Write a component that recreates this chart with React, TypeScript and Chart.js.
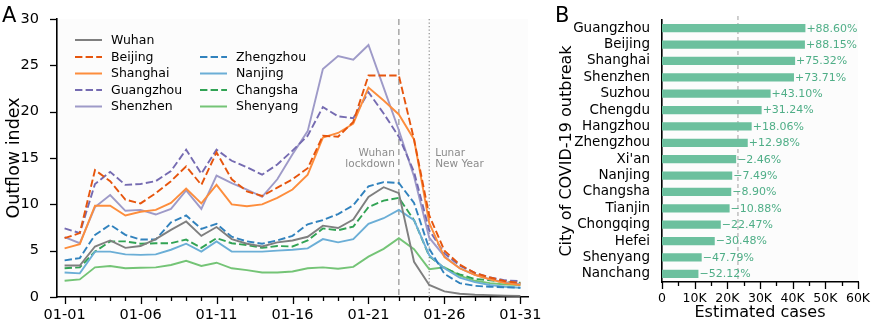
import React, { useEffect, useRef } from 'react';
import Chart from 'chart.js/auto';

const days = ['01-01','01-02','01-03','01-04','01-05','01-06','01-07','01-08','01-09','01-10','01-11','01-12','01-13','01-14','01-15','01-16','01-17','01-18','01-19','01-20','01-21','01-22','01-23','01-24','01-25','01-26','01-27','01-28','01-29','01-30','01-31'];

const wuhan = [3.4,3.4,5.45,6.1,5.3,5.5,6.25,7.25,8.15,6.6,7.55,6.25,5.75,5.45,5.9,6.1,6.5,7.7,7.45,8.35,10.8,11.85,11.2,3.8,1.3,0.6,0.35,0.25,0.2,0.15,0.12];
const beijing = [6.35,6.9,13.7,12.5,10.5,10.1,11.2,12.5,14.1,12.1,15.6,12.7,11.4,10.9,11.8,12.7,13.9,17.4,17.3,18.9,23.9,23.9,23.9,17.0,8.8,5.0,3.5,2.6,2.1,1.7,1.5];
const shanghai = [5.25,5.7,9.85,9.85,8.8,9.2,9.4,10.15,11.7,10.1,12.1,10.0,9.8,10.0,10.7,11.6,13.2,17.2,17.7,18.7,22.6,21.2,19.7,17.0,8.0,4.3,3.1,2.4,1.9,1.5,1.3];
const guangzhou = [7.4,6.9,12.2,13.5,12.1,12.2,12.5,13.6,15.9,13.3,15.9,14.7,14.0,13.2,14.3,15.8,17.4,20.5,19.5,19.3,22.1,19.8,17.3,13.5,7.2,4.7,3.4,2.6,2.1,1.8,1.7];
const shenzhen = [6.45,5.8,9.7,11.0,9.3,9.4,8.9,9.5,11.5,9.5,13.1,12.3,11.6,10.8,12.7,15.4,17.9,24.6,26.0,25.6,27.2,22.6,18.0,13.0,6.4,4.4,3.1,2.4,1.9,1.6,1.4];
const zhengzhou = [3.95,4.2,6.7,7.8,6.7,6.2,6.2,8.05,8.8,7.35,7.9,6.5,6.0,5.75,6.1,6.6,7.85,8.3,8.95,9.9,11.95,12.4,12.3,10.15,5.2,2.5,1.5,1.2,1.1,1.05,1.0];
const nanjing = [2.65,2.55,4.9,4.9,4.6,4.55,4.6,5.1,5.75,4.9,6.0,4.9,4.9,4.9,5.0,5.1,5.25,6.25,5.9,6.25,7.9,8.5,9.4,8.3,4.5,3.1,2.1,1.6,1.3,1.1,1.0];
const changsha = [3.1,3.2,4.9,6.0,6.0,5.75,5.8,5.8,6.2,5.3,6.35,5.8,5.6,5.3,5.5,5.45,6.1,7.4,7.2,7.6,9.7,10.4,10.7,8.3,4.4,3.1,2.45,1.95,1.8,1.6,1.55];
const shenyang = [1.75,1.9,3.2,3.35,3.1,3.15,3.2,3.45,3.9,3.35,3.7,3.1,2.9,2.65,2.65,2.75,3.1,3.2,3.05,3.25,4.35,5.2,6.35,5.15,3.0,3.2,2.3,1.75,1.5,1.35,1.3];

const lockdownDay = '01-23';
const lunarNewYearDay = '01-25';
const yTicksA = [0, 5, 10, 15, 20, 25, 30];

const cities = ['Guangzhou','Beijing','Shanghai','Shenzhen','Suzhou','Chengdu','Hangzhou','Zhengzhou',"Xi'an",'Nanjing','Changsha','Tianjin','Chongqing','Hefei','Shenyang','Nanchang'];
const estimatedCases = [43900,43750,40750,40400,33250,30500,27450,26250,22700,21500,21200,20700,18000,16150,12150,11150];
const changeLabels = ['+88.60%','+88.15%','+75.32%','+73.71%','+43.10%','+31.24%','+18.06%','+12.98%','\u22122.46%','\u22127.49%','\u22128.90%','\u221210.88%','\u221222.47%','\u221230.48%','\u221247.79%','\u221252.12%'];
const baselineCases = 23250;
const xTicksB = [0, 10000, 20000, 30000, 40000, 50000, 60000];

const FONT = '"DejaVu Sans", sans-serif';
const DASH = [7.4, 3.2];

const seriesA = [
  { label: 'Wuhan', data: wuhan, color: '#7f7f7f', dash: [] as number[] },
  { label: 'Beijing', data: beijing, color: '#e6550d', dash: DASH },
  { label: 'Shanghai', data: shanghai, color: '#fd8d3c', dash: [] as number[] },
  { label: 'Guangzhou', data: guangzhou, color: '#756bb1', dash: DASH },
  { label: 'Shenzhen', data: shenzhen, color: '#9e9ac8', dash: [] as number[] },
  { label: 'Zhengzhou', data: zhengzhou, color: '#3182bd', dash: DASH },
  { label: 'Nanjing', data: nanjing, color: '#6baed6', dash: [] as number[] },
  { label: 'Changsha', data: changsha, color: '#31a354', dash: DASH },
  { label: 'Shenyang', data: shenyang, color: '#74c476', dash: [] as number[] },
];

const bgPlugin = {
  id: 'bgArea',
  beforeDraw(chart: any) {
    const { ctx, chartArea } = chart;
    ctx.save();
    ctx.fillStyle = '#fcfcfc';
    ctx.fillRect(chartArea.left, chartArea.top, chartArea.right - chartArea.left, chartArea.bottom - chartArea.top);
    ctx.restore();
  },
};

const panelAPlugin = {
  id: 'panelA',
  beforeDatasetsDraw(chart: any) {
    const { ctx, chartArea, scales } = chart;
    const xs = scales.x;
    ctx.save();
    ctx.strokeStyle = '#999999';
    ctx.lineWidth = 1.3;
    const lx = xs.getPixelForValue(days.indexOf(lockdownDay));
    ctx.setLineDash([6, 4]);
    ctx.beginPath(); ctx.moveTo(lx, chartArea.top); ctx.lineTo(lx, chartArea.bottom); ctx.stroke();
    const nx = xs.getPixelForValue(days.indexOf(lunarNewYearDay));
    ctx.setLineDash([1.3, 2.2]);
    ctx.beginPath(); ctx.moveTo(nx, chartArea.top); ctx.lineTo(nx, chartArea.bottom); ctx.stroke();
    ctx.setLineDash([]);
    ctx.fillStyle = '#8c8c8c';
    ctx.font = '10.5px ' + FONT;
    ctx.textBaseline = 'middle';
    ctx.textAlign = 'right';
    ctx.fillText('Wuhan', lx - 4, 153);
    ctx.fillText('lockdown', lx - 4, 164);
    ctx.textAlign = 'left';
    ctx.fillText('Lunar', nx + 6, 153);
    ctx.fillText('New Year', nx + 6, 164);
    ctx.restore();
  },
  afterDraw(chart: any) {
    const { ctx, chartArea, scales } = chart;
    const xs = scales.x;
    const ys = scales.y;
    ctx.save();
    ctx.strokeStyle = '#000';
    ctx.lineWidth = 1.3;
    for (let i = 0; i < days.length; i++) {
      const px = Math.round(xs.getPixelForValue(i)) + 0.5;
      const len = i % 5 === 0 ? 7 : 4;
      ctx.beginPath(); ctx.moveTo(px, chartArea.bottom); ctx.lineTo(px, chartArea.bottom + len); ctx.stroke();
    }
    for (const v of yTicksA) {
      const py = Math.round(ys.getPixelForValue(v)) + 0.5;
      ctx.beginPath(); ctx.moveTo(chartArea.left - 7, py); ctx.lineTo(chartArea.left, py); ctx.stroke();
    }
    // legend
    const ds = chart.data.datasets;
    const rowY = [40, 57, 73.5, 90, 106.5];
    ctx.font = '12.5px ' + FONT;
    ctx.textBaseline = 'middle';
    ctx.textAlign = 'left';
    ds.forEach((d: any, i: number) => {
      const col = i < 5 ? 0 : 1;
      const row = i < 5 ? i : i - 4;
      const x0 = col === 0 ? 75 : 200;
      const y = rowY[row];
      ctx.strokeStyle = d.borderColor;
      ctx.lineWidth = 2;
      ctx.setLineDash(d.borderDash || []);
      ctx.beginPath(); ctx.moveTo(x0, y); ctx.lineTo(x0 + 27, y); ctx.stroke();
      ctx.setLineDash([]);
      ctx.fillStyle = '#000';
      ctx.fillText(d.label, x0 + 36, y + 0.5);
    });
    ctx.font = '21px ' + FONT;
    ctx.fillStyle = '#000';
    ctx.textBaseline = 'alphabetic';
    ctx.fillText('A', 2, 22);
    ctx.restore();
  },
};

const panelBPlugin = {
  id: 'panelB',
  beforeDatasetsDraw(chart: any) {
    const { ctx, chartArea, scales } = chart;
    const bx = scales.x.getPixelForValue(baselineCases);
    ctx.save();
    ctx.strokeStyle = '#b0b0b0';
    ctx.lineWidth = 1.2;
    ctx.setLineDash([4, 3]);
    ctx.beginPath(); ctx.moveTo(bx, chartArea.top - 4); ctx.lineTo(bx, chartArea.bottom); ctx.stroke();
    ctx.restore();
  },
  afterDraw(chart: any) {
    const { ctx, chartArea, scales } = chart;
    const xs = scales.x;
    const ys = scales.y;
    ctx.save();
    ctx.strokeStyle = '#000';
    ctx.lineWidth = 1.3;
    for (let v = 0; v <= 60000; v += 5000) {
      const px = Math.round(xs.getPixelForValue(v)) + 0.5;
      const len = v % 10000 === 0 ? 7 : 4;
      ctx.beginPath(); ctx.moveTo(px, chartArea.bottom); ctx.lineTo(px, chartArea.bottom + len); ctx.stroke();
    }
    ctx.font = '11px ' + FONT;
    ctx.fillStyle = '#4fae87';
    ctx.textBaseline = 'middle';
    ctx.textAlign = 'left';
    estimatedCases.forEach((v, i) => {
      const px = xs.getPixelForValue(v);
      const py = ys.getPixelForValue(i);
      ctx.fillText(changeLabels[i], px + 1, py + 0.5);
    });
    ctx.font = '21px ' + FONT;
    ctx.fillStyle = '#000';
    ctx.textBaseline = 'alphabetic';
    ctx.fillText('B', 10, 22);
    ctx.restore();
  },
};

function PanelA() {
  const ref = useRef<HTMLCanvasElement>(null);
  useEffect(() => {
    const chart = new Chart(ref.current as HTMLCanvasElement, {
      type: 'line',
      data: {
        labels: days,
        datasets: seriesA.map((s) => ({
          label: s.label,
          data: s.data,
          borderColor: s.color,
          backgroundColor: s.color,
          borderDash: s.dash,
          borderWidth: 1.9,
          pointRadius: 0,
          tension: 0,
          fill: false,
        })),
      },
      options: {
        responsive: false,
        animation: false,
        devicePixelRatio: 1,
        layout: { padding: { top: 19, right: 17, left: 0, bottom: 0 } },
        plugins: { legend: { display: false }, tooltip: { enabled: false } },
        scales: {
          x: {
            type: 'category',
            offset: true,
            grid: { display: false },
            border: { display: true, color: '#000', width: 1.6 },
            ticks: {
              autoSkip: false,
              maxRotation: 0,
              padding: 2,
              color: '#000',
              font: { family: FONT, size: 14.5 },
              callback: (_v: any, i: number) => (i % 5 === 0 ? days[i] : ''),
            },
            afterFit: (s: any) => { s.height = 28; },
          },
          y: {
            min: 0,
            max: 30,
            afterBuildTicks: (s: any) => { s.ticks = yTicksA.map((v) => ({ value: v })); },
            grid: { display: false },
            border: { display: true, color: '#000', width: 1.6 },
            ticks: { padding: 10, color: '#000', font: { family: FONT, size: 14.5 } },
            title: { display: true, text: 'Outflow index', color: '#000', font: { family: FONT, size: 17.5 }, padding: { top: 4, bottom: 0 } },
            afterFit: (s: any) => { s.width = 57; },
          },
        },
      } as any,
      plugins: [bgPlugin, panelAPlugin],
    });
    return () => chart.destroy();
  }, []);
  return <canvas ref={ref} width={545} height={325} style={{ position: 'absolute', left: 0, top: 0 }} />;
}

function PanelB() {
  const ref = useRef<HTMLCanvasElement>(null);
  useEffect(() => {
    const chart = new Chart(ref.current as HTMLCanvasElement, {
      type: 'bar',
      data: {
        labels: cities,
        datasets: [{
          label: 'Estimated cases',
          data: estimatedCases,
          backgroundColor: '#6cc09e',
          borderWidth: 0,
          barPercentage: 0.5,
          categoryPercentage: 1,
        }],
      },
      options: {
        indexAxis: 'y',
        responsive: false,
        animation: false,
        devicePixelRatio: 1,
        layout: { padding: { top: 20, right: 14, left: 0, bottom: 0 } },
        plugins: { legend: { display: false }, tooltip: { enabled: false } },
        scales: {
          x: {
            min: 0,
            max: 60000,
            afterBuildTicks: (s: any) => { s.ticks = xTicksB.map((v) => ({ value: v })); },
            grid: { display: false },
            border: { display: true, color: '#000', width: 1.6 },
            ticks: {
              padding: 1,
              color: '#000',
              font: { family: FONT, size: 12.5 },
              callback: (v: any) => (v === 0 ? '0' : v / 1000 + 'K'),
            },
            title: { display: true, text: 'Estimated cases', color: '#000', font: { family: FONT, size: 16 }, padding: { top: 0, bottom: 3 } },
            afterFit: (s: any) => { s.height = 43; },
          },
          y: {
            type: 'category',
            grid: { display: false },
            border: { display: true, color: '#000', width: 1.6 },
            ticks: { padding: 4, color: '#000', font: { family: FONT, size: 13.5 }, autoSkip: false },
            title: { display: true, text: 'City of COVID-19 outbreak', color: '#000', font: { family: FONT, size: 16 }, padding: { top: 12, bottom: 0 } },
            afterFit: (s: any) => { s.width = 117; },
          },
        },
      } as any,
      plugins: [bgPlugin, panelBPlugin],
    });
    return () => chart.destroy();
  }, []);
  return <canvas ref={ref} width={327} height={325} style={{ position: 'absolute', left: 545, top: 0 }} />;
}

export default function App() {
  return (
    <div style={{ position: 'fixed', left: 0, top: 0, width: 872, height: 325, background: '#fff' }}>
      <PanelA />
      <PanelB />
    </div>
  );
}
